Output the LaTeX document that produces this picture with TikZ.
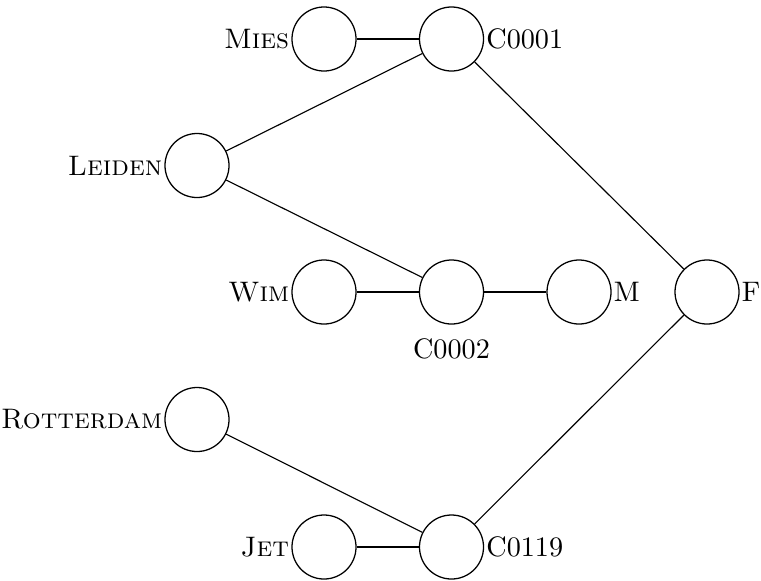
\documentclass[tikz,border=0pt]{standalone}
\usetikzlibrary{positioning}
\begin{document}
\begin{tikzpicture}[x=0.3546pt,y=-0.3546pt,
  vtx/.style={circle,draw,line width=0.45pt,minimum size=22.7pt,inner sep=0pt},
  lbl/.style={inner sep=0.6pt},
  thin/.style={line width=0.4pt},
  bold/.style={line width=0.9pt}]
\useasboundingbox (0,0) rectangle (761,580);
\node[vtx] (mies) at (324,39) {};
\node[vtx] (c1) at (451.5,39) {};
\node[vtx] (leiden) at (197,165.5) {};
\node[vtx] (wim) at (324,292) {};
\node[vtx] (c2) at (451.5,292) {};
\node[vtx] (m) at (579,292) {};
\node[vtx] (f) at (707,292) {};
\node[vtx] (rot) at (197,419.5) {};
\node[vtx] (jet) at (324,547) {};
\node[vtx] (c119) at (451.5,547) {};
\node[lbl,anchor=east] (lmies) at (mies.west) {\textsc{Mies}};
\node[lbl,anchor=west] (lc1) at (c1.east) {C0001};
\node[lbl,anchor=east] (lleiden) at (leiden.west) {\textsc{Leiden}};
\node[lbl,anchor=east] (lwim) at (wim.west) {\textsc{Wim}};
\node[lbl,anchor=north] (lc2) at ([yshift=-4.2pt]c2.south) {C0002};
\node[lbl,anchor=west] (lm) at (m.east) {M};
\node[lbl,anchor=west] (lf) at (f.east) {F};
\node[lbl,anchor=east] (lrot) at (rot.west) {\textsc{Rotterdam}};
\node[lbl,anchor=east] (ljet) at (jet.west) {\textsc{Jet}};
\node[lbl,anchor=west] (lc119) at (c119.east) {C0119};
\draw[bold] (mies) -- (c1);
\draw[bold] (wim) -- (c2);
\draw[bold] (c2) -- (m);
\draw[bold] (jet) -- (c119);
\draw[thin] (c1) -- (leiden);
\draw[thin] (leiden) -- (c2);
\draw[thin] (c1) -- (f);
\draw[thin] (rot) -- (c119);
\draw[thin] (c119) -- (f);
\end{tikzpicture}
\end{document}
